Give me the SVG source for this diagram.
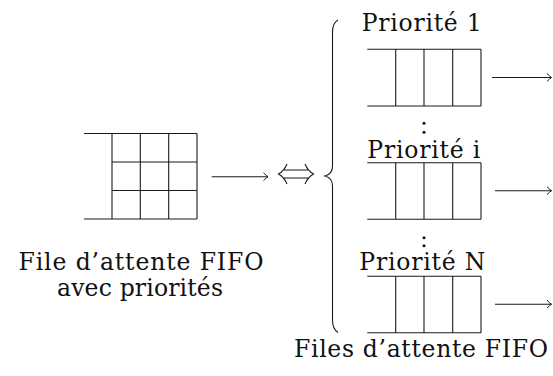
<svg xmlns="http://www.w3.org/2000/svg" width="553" height="376" viewBox="0 0 553 376">
<style>
.ln{stroke:#1a1a1a;stroke-width:1.1;fill:none}
.tx{font-family:"DejaVu Serif","Liberation Serif",serif;font-size:23.5px;fill:#111}
.dot{fill:#111}
</style>
<defs>
<marker id="ah" markerUnits="userSpaceOnUse" markerWidth="12" markerHeight="12" viewBox="-6 -6 12 12" refX="0" refY="0" orient="auto">
<path d="M-4.5,-4 Q-1.5,-0.8 0,0 Q-1.5,0.8 -4.5,4" fill="none" stroke="#1a1a1a" stroke-width="1"/>
</marker>
</defs>
<rect width="553" height="376" fill="#fff"/>

<g id="fifo-prio">
<path class="ln" d="M84,133.5H197M84,219H197M112,133.5V219M140.3,133.5V219M168.7,133.5V219M197,133.5V219M112,162H197M112,190.5H197"/>
<text class="tx" x="18.5" y="269.5" textLength="245" lengthAdjust="spacing">File d’attente FIFO</text>
<text class="tx" x="57" y="295.5" textLength="166" lengthAdjust="spacing">avec priorités</text>
</g>

<g id="equiv">
<path class="ln" d="M283,170H309M283,178H309M287,164Q284,171 278.5,174Q284,177 287,184M305,164Q308,171 313.5,174Q308,177 305,184" stroke-width="1.2"/>
</g>

<g id="brace">
<path class="ln" stroke-width="1.3" d="M338,20Q332.5,23 332.5,32L332.5,166Q332.5,174 325,176Q332.5,178 332.5,186L332.5,320Q332.5,329 338,332.5"/>
</g>

<g id="queue-1">
<text class="tx" x="361.7" y="31" textLength="120" lengthAdjust="spacing">Priorité 1</text>
<path class="ln" d="M367.3,49.3H481M367.3,106H481M395.7,49.3V106M424,49.3V106M452.7,49.3V106M481,49.3V106"/>
</g>

<g id="dots-1">
<circle class="dot" cx="424" cy="123.3" r="1.5"/>
<circle class="dot" cx="424" cy="132.3" r="1.5"/>
</g>

<g id="queue-i">
<text class="tx" x="367.3" y="158.3" textLength="113" lengthAdjust="spacing">Priorité i</text>
<path class="ln" d="M367.3,162.7H481M367.3,219.3H481M395.7,162.7V219.3M424,162.7V219.3M452.7,162.7V219.3M481,162.7V219.3"/>
</g>

<g id="dots-2">
<circle class="dot" cx="424" cy="237.7" r="1.5"/>
<circle class="dot" cx="424" cy="245.7" r="1.5"/>
</g>

<g id="queue-n">
<text class="tx" x="359.3" y="270" textLength="126" lengthAdjust="spacing">Priorité N</text>
<path class="ln" d="M367.3,276.3H481M367.3,332.7H481M395.7,276.3V332.7M424,276.3V332.7M452.7,276.3V332.7M481,276.3V332.7"/>
</g>

<g id="label-fifos">
<text class="tx" x="294" y="357" textLength="254" lengthAdjust="spacing">Files d’attente FIFO</text>
</g>

<g id="connectors">
<line class="ln" x1="211.7" y1="176.7" x2="268" y2="176.7" marker-end="url(#ah)"/>
<line class="ln" x1="492" y1="77.5" x2="551.5" y2="77.5" marker-end="url(#ah)"/>
<line class="ln" x1="495" y1="190.7" x2="551.5" y2="190.7" marker-end="url(#ah)"/>
<line class="ln" x1="495" y1="304.2" x2="551.5" y2="304.2" marker-end="url(#ah)"/>
</g>
</svg>
